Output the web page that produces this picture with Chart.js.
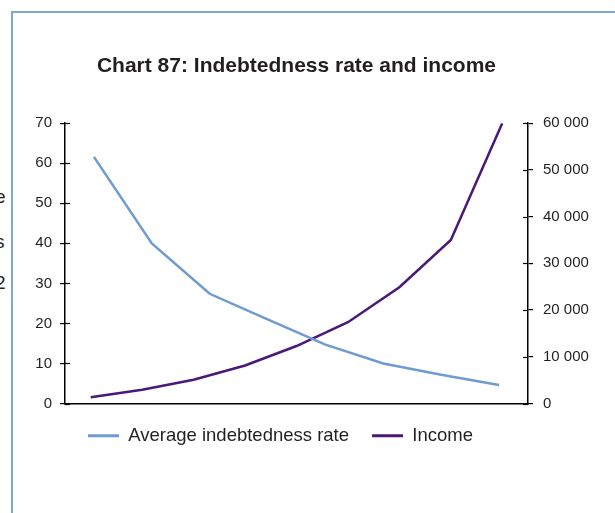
<!DOCTYPE html>
<html>
<head>
<meta charset="utf-8">
<script src="https://cdn.jsdelivr.net/npm/chart.js@4.4.1/dist/chart.umd.min.js"></script>
<style>
    html, body { margin: 0; padding: 0; background: #fff; overflow: hidden; }
    #frame { position: absolute; left: 11px; top: 11px; width: 700px; height: 600px;
             border-left: 2px solid #7ea6d6; border-top: 2px solid #7ea6d6; }
    #wrap { position: absolute; left: 0; top: 0; width: 615px; height: 513px; }
    .clip { position: absolute; left: -5px; font: 19px "Liberation Sans", sans-serif; color: #231f20; }
</style>
</head>
<body>
<div id="frame"></div>
<span class="clip" style="top:186px">e</span>
<span class="clip" style="top:231px">s</span>
<span class="clip" style="top:272px">2</span>
<div id="wrap"><canvas id="debtChart" width="615" height="513"></canvas></div>
<script>
// groups for each series (the two series use a different number of groups)
var rateGroups = ['1', '2', '3', '4', '5', '6', '7', '8'];
var incomeGroups = ['1', '2', '3', '4', '5', '6', '7', '8', '9'];

// Average indebtedness rate (left axis)
var rateValues = [61.6, 40, 27.4, 21, 14.7, 10, 7.2, 4.6];
// Income (right axis)
var incomeValues = [1350, 2930, 5080, 8140, 12300, 17400, 24900, 35000, 60000];

var rateTicks = [0, 10, 20, 30, 40, 50, 60, 70];
var incomeTicks = [0, 10000, 20000, 30000, 40000, 50000, 60000];

var textColor = '#231f20';
var sans = '"Liberation Sans", sans-serif';

function spaced(v) {
    return String(v).replace(/\B(?=(\d{3})+(?!\d))/g, ' ');
}

// draw the inner half of the tick marks so they cross the axis line
var innerTicks = {
    id: 'innerTicks',
    afterDraw: function (chart) {
        var ctx = chart.ctx;
        ctx.save();
        ctx.strokeStyle = '#000';
        ctx.lineWidth = 1.2;
        ['y', 'y1'].forEach(function (id) {
            var s = chart.scales[id];
            var x = id === 'y' ? s.right : s.left;
            var dir = id === 'y' ? 1 : -1;
            s.ticks.forEach(function (t) {
                var yy = Math.round(s.getPixelForValue(t.value)) + 0.5;
                ctx.beginPath();
                ctx.moveTo(x, yy);
                ctx.lineTo(x + dir * 5, yy);
                ctx.stroke();
            });
        });
        ctx.restore();
    }
};

var ctx = document.getElementById('debtChart').getContext('2d');
var debtChart = new Chart(ctx, {
    type: 'line',
    data: {
        datasets: [
            {
                label: 'Average indebtedness rate',
                data: rateValues,
                xAxisID: 'x',
                yAxisID: 'y',
                borderColor: '#6e9bd2',
                backgroundColor: '#6e9bd2',
                borderWidth: 2.5,
                pointRadius: 0,
                tension: 0
            },
            {
                label: 'Income',
                data: incomeValues,
                xAxisID: 'x2',
                yAxisID: 'y1',
                borderColor: '#4a1878',
                backgroundColor: '#4a1878',
                borderWidth: 2.5,
                pointRadius: 0,
                tension: 0
            }
        ]
    },
    options: {
        responsive: false,
        animation: false,
        layout: { padding: { left: 10, right: 0, top: 0, bottom: 58 } },
        plugins: {
            title: {
                display: true,
                text: 'Chart 87: Indebtedness rate and income',
                fullSize: false,
                color: textColor,
                font: { family: sans, weight: 'bold', size: 21 },
                padding: { top: 54, bottom: 44 }
            },
            legend: {
                position: 'bottom',
                align: 'start',
                fullSize: false,
                labels: {
                    color: textColor,
                    font: { family: sans, size: 18.5 },
                    boxWidth: 31,
                    boxHeight: 3,
                    padding: 23,
                    generateLabels: function (chart) {
                        var items = Chart.defaults.plugins.legend.labels.generateLabels(chart);
                        items.forEach(function (it) { it.lineWidth = 0; });
                        return items;
                    }
                }
            },
            tooltip: { enabled: false }
        },
        scales: {
            x: {
                type: 'category',
                labels: rateGroups,
                offset: true,
                grid: { display: false },
                ticks: { display: false },
                border: { display: true, color: '#000', width: 1.5 },
                afterFit: function (s) { s.height = 0; }
            },
            x2: {
                type: 'category',
                labels: incomeGroups,
                offset: true,
                display: false
            },
            y: {
                position: 'left',
                min: 0,
                max: 70,
                afterBuildTicks: function (s) { s.ticks = rateTicks.map(function (v) { return { value: v }; }); },
                afterFit: function (s) { s.width = 55; },
                grid: { drawOnChartArea: false, color: '#000', lineWidth: 1.2, tickLength: 5 },
                border: { color: '#000', width: 1.5 },
                ticks: { color: textColor, font: { family: sans, size: 15 }, padding: 8 }
            },
            y1: {
                position: 'right',
                min: 0,
                max: 60000,
                afterBuildTicks: function (s) { s.ticks = incomeTicks.map(function (v) { return { value: v }; }); },
                afterFit: function (s) { s.width = 87; },
                grid: { drawOnChartArea: false, color: '#000', lineWidth: 1.2, tickLength: 5 },
                border: { color: '#000', width: 1.5 },
                ticks: {
                    color: textColor,
                    font: { family: sans, size: 15 },
                    padding: 10,
                    callback: function (v) { return spaced(v); }
                }
            }
        }
    },
    plugins: [innerTicks]
});
</script>
</body>
</html>
